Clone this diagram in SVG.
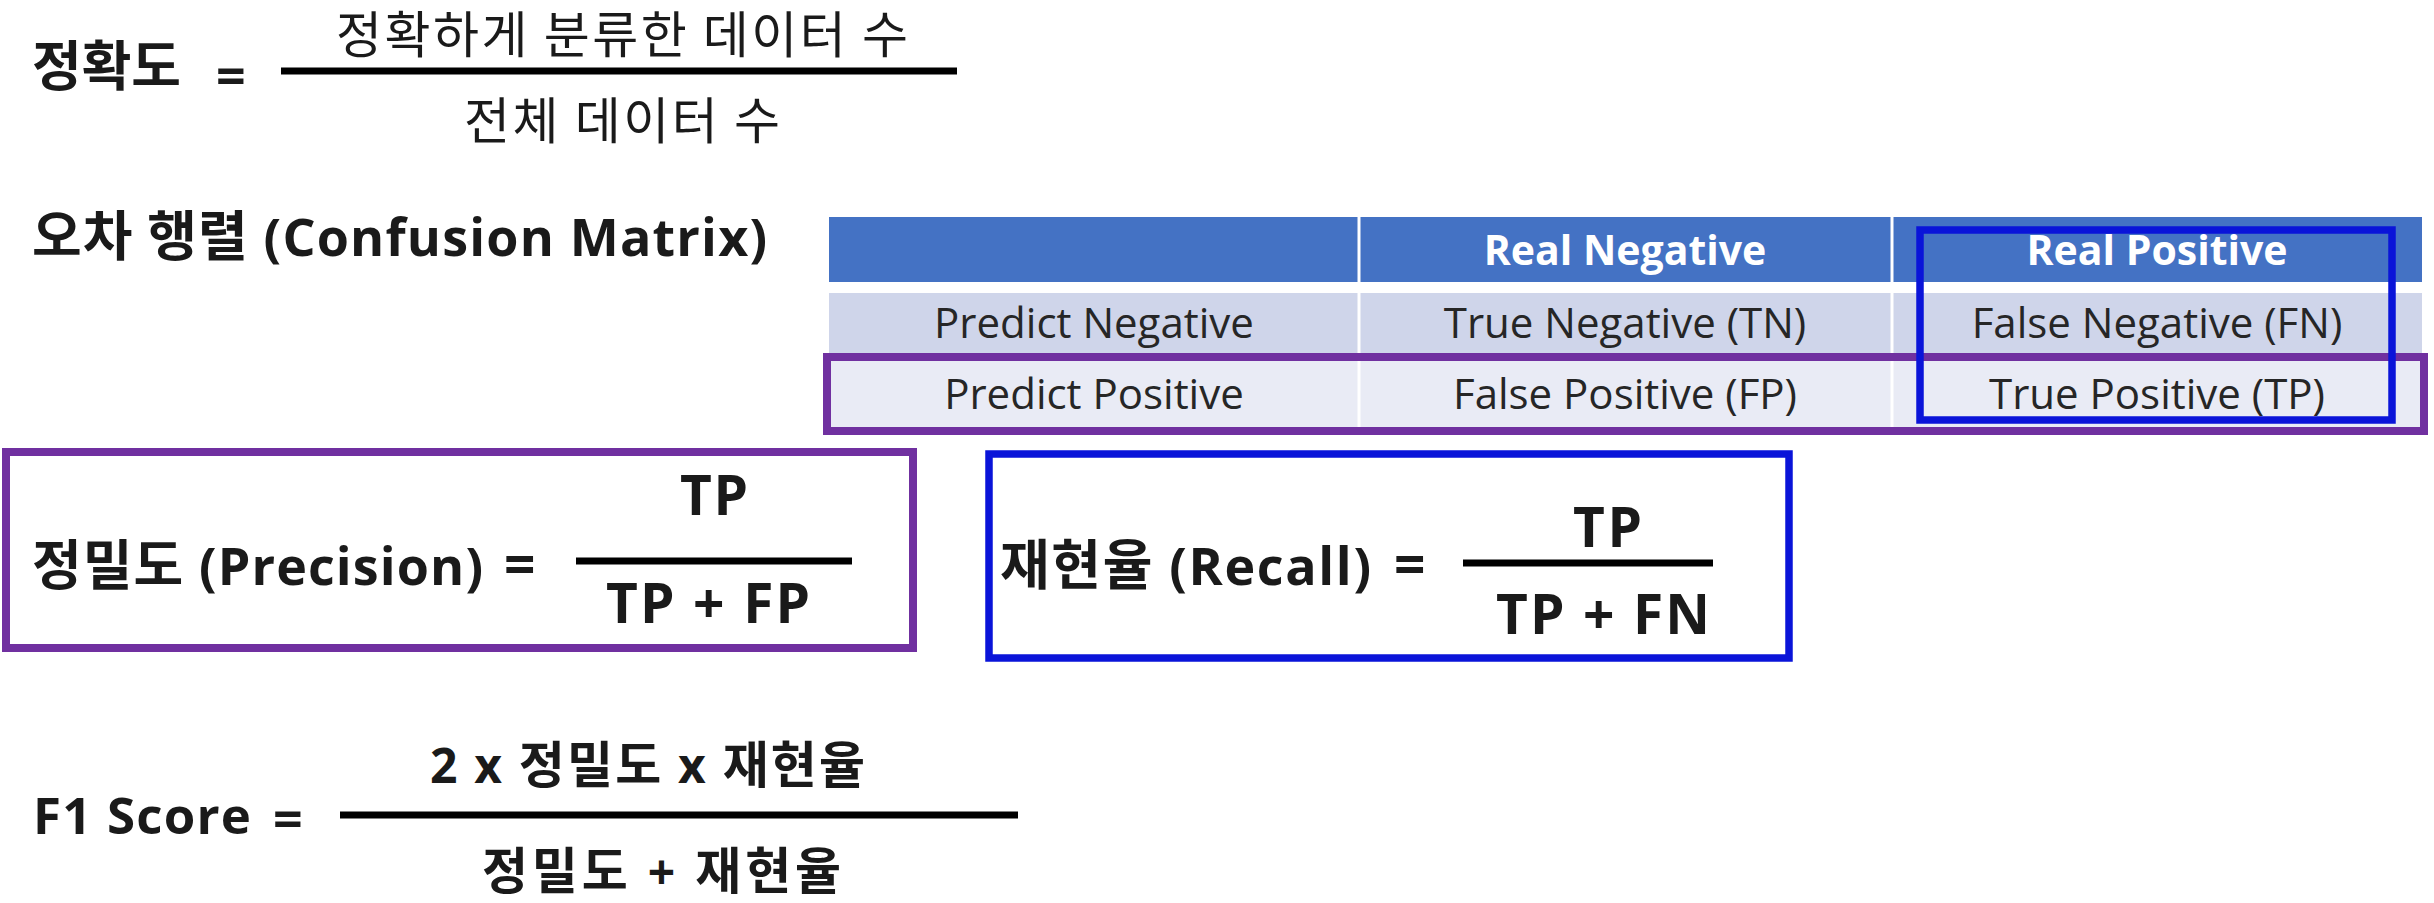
<svg xmlns="http://www.w3.org/2000/svg" width="2434" height="903" viewBox="0 0 2434 903">
<style>
.b{font-family:"Open Sans","Noto Sans CJK KR",sans-serif;font-weight:700;fill:#1a1a1a}
.r{font-family:"Open Sans","Noto Sans CJK KR",sans-serif;font-weight:400;fill:#1a1a1a}
.ko{font-family:"Noto Sans CJK KR",sans-serif}
.hd{font-family:"Open Sans","Noto Sans CJK KR",sans-serif;font-weight:700;fill:#ffffff;font-size:41px}
.cell{font-family:"Open Sans","Noto Sans CJK KR",sans-serif;font-weight:400;fill:#262626;font-size:42px}
.bar{stroke:#000;stroke-width:7;fill:none}
.purple{fill:none;stroke:#7030A0;stroke-width:8}
.blue{fill:none;stroke:#0A14D9;stroke-width:7.5}
</style>
<rect width="2434" height="903" fill="#ffffff"/>

<g id="accuracy">
  <text class="b ko" x="32" y="86" font-size="54">정확도</text>
  <text class="b" x="216" y="95" font-size="52">=</text>
  <line class="bar" x1="281" y1="71" x2="957" y2="71"/>
  <text class="r ko" x="336" y="53" font-size="50" textLength="572">정확하게 분류한 데이터 수</text>
  <text class="r ko" x="464" y="139" font-size="50" textLength="316">전체 데이터 수</text>
</g>

<g id="confusion-title">
  <text class="b" x="32" y="256" font-size="52" textLength="735"><tspan class="ko" font-size="54">오차 행렬</tspan> (Confusion Matrix)</text>
</g>

<g id="confusion-table">
  <rect x="829" y="217" width="1593" height="65" fill="#4472C4"/>
  <rect x="829" y="293" width="1593" height="62" fill="#CFD5EA"/>
  <rect x="829" y="357" width="1593" height="70" fill="#E9EBF5"/>
  <line x1="1359" y1="217" x2="1359" y2="427" stroke="#ffffff" stroke-width="3"/>
  <line x1="1892" y1="217" x2="1892" y2="427" stroke="#ffffff" stroke-width="3"/>
  <text class="hd" x="1625" y="265" text-anchor="middle">Real Negative</text>
  <text class="hd" x="2157" y="265" text-anchor="middle">Real Positive</text>
  <text class="cell" x="1094" y="338" text-anchor="middle">Predict Negative</text>
  <text class="cell" x="1625" y="338" text-anchor="middle">True Negative (TN)</text>
  <text class="cell" x="2157" y="338" text-anchor="middle">False Negative (FN)</text>
  <text class="cell" x="1094" y="409" text-anchor="middle">Predict Positive</text>
  <text class="cell" x="1625" y="409" text-anchor="middle">False Positive (FP)</text>
  <text class="cell" x="2157" y="409" text-anchor="middle">True Positive (TP)</text>
</g>

<g id="highlight-predict-positive">
  <rect class="purple" x="827" y="357" width="1597" height="74"/>
</g>
<g id="highlight-real-positive">
  <rect class="blue" x="1920" y="230" width="472" height="190"/>
</g>

<g id="precision">
  <rect class="purple" x="6" y="452" width="907" height="196"/>
  <text class="b" x="32" y="585" font-size="52" textLength="451"><tspan class="ko" font-size="54">정밀도</tspan> (Precision)</text>
  <text class="b" x="504" y="584" font-size="55">=</text>
  <text class="b" x="680" y="515" font-size="55" textLength="68">TP</text>
  <line class="bar" x1="576" y1="561" x2="852" y2="561"/>
  <text class="b" x="606" y="623" font-size="55" textLength="204">TP + FP</text>
</g>

<g id="recall">
  <rect class="blue" x="989" y="454" width="800" height="204" stroke-width="8"/>
  <text class="b" x="1000" y="585" font-size="52" textLength="371"><tspan class="ko" font-size="54">재현율</tspan> (Recall)</text>
  <text class="b" x="1394" y="584" font-size="55">=</text>
  <text class="b" x="1573" y="547" font-size="55" textLength="69">TP</text>
  <line class="bar" x1="1463" y1="563" x2="1713" y2="563"/>
  <text class="b" x="1496" y="634" font-size="55" textLength="214">TP + FN</text>
</g>

<g id="f1-score">
  <text class="b" x="33" y="834" font-size="51" textLength="218">F1 Score</text>
  <text class="b" x="273" y="838" font-size="52">=</text>
  <text class="b" x="430" y="783" font-size="48" textLength="435">2 x <tspan class="ko" font-size="50">정밀도</tspan> x <tspan class="ko" font-size="50">재현율</tspan></text>
  <line class="bar" x1="340" y1="815" x2="1018" y2="815"/>
  <text class="b" x="482" y="889" font-size="48" textLength="359"><tspan class="ko" font-size="50">정밀도</tspan> + <tspan class="ko" font-size="50">재현율</tspan></text>
</g>
</svg>
